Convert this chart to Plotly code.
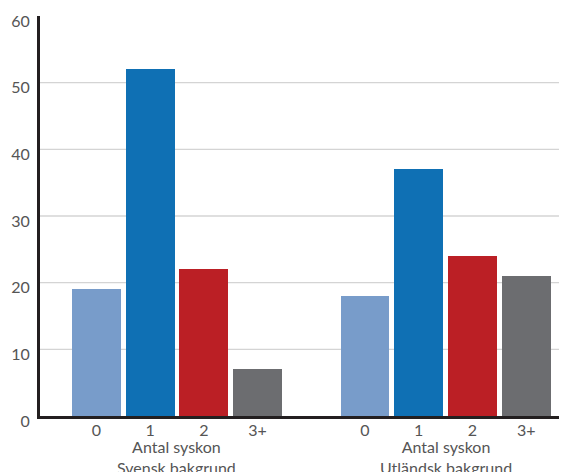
import plotly.graph_objects as go

groups = ["Antal syskon<br>Svensk bakgrund", "Antal syskon<br>Utländsk bakgrund"]
siblings = ["0", "1", "2", "3+"]
values = {
    "Antal syskon<br>Svensk bakgrund": [19, 52, 22, 7],
    "Antal syskon<br>Utländsk bakgrund": [18, 37, 24, 21],
}
colors = ["#789cca", "#0f70b4", "#bb1f25", "#6c6d70"]
y_ticks = [0, 10, 20, 30, 40, 50, 60]
grid_vals = [10, 20, 30, 40, 50]

FONT = "Lato"
TXT = "#555555"
slot = len(siblings) + 1

fig = go.Figure()
xs_all, tt_all = [], []
for gi, g in enumerate(groups):
    xs = [gi * slot + i for i in range(len(siblings))]
    xs_all += xs
    tt_all += siblings
    fig.add_trace(go.Bar(
        x=xs, y=values[g], marker=dict(color=colors, line=dict(width=0)),
        width=0.91, showlegend=False, hoverinfo="skip"))
    fig.add_annotation(
        x=(xs[0] + xs[-1]) / 2, y=0, xref="x", yref="paper", yshift=-19,
        text=g, showarrow=False, yanchor="top", align="center",
        font=dict(family=FONT, size=16, color=TXT))

shapes = [dict(type="line", xref="paper", yref="y", x0=0, x1=1, y0=v, y1=v,
               line=dict(color="#d4d4d4", width=1.3), layer="below") for v in grid_vals]

fig.update_layout(
    width=567, height=472,
    margin=dict(l=32, r=8, t=8, b=64),
    paper_bgcolor="white", plot_bgcolor="white",
    shapes=shapes,
    xaxis=dict(range=[-1.05, 8.76], tickvals=xs_all, ticktext=tt_all,
               showgrid=False, zeroline=False, showline=True, linecolor="#231f20",
               linewidth=3, ticks="", ticklabelstandoff=-2, automargin=False,
               tickfont=dict(family=FONT, size=16, color=TXT)),
    yaxis=dict(range=[0, 60], tickvals=y_ticks, showgrid=False, zeroline=False,
               showline=True, linecolor="#231f20", linewidth=3, ticks="",
               ticklabelshift=5, ticklabelstandoff=4, ticklabeloverflow="allow",
               automargin=False,
               tickfont=dict(family=FONT, size=16, color=TXT)),
    bargap=0,
)
fig.write_html("out.html")
